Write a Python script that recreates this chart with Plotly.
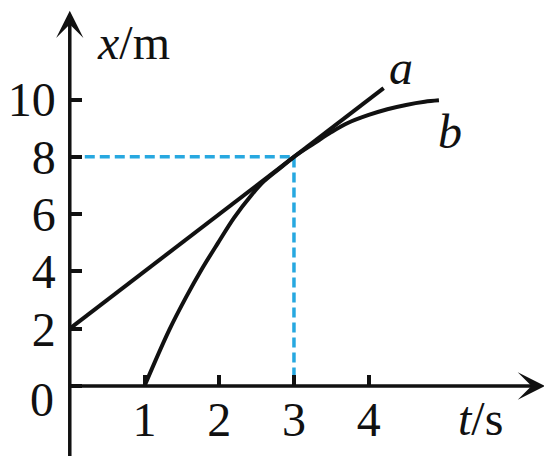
import plotly.graph_objects as go

# values
a_t = [0, 4.2]
a_x = [2, 10.4]

b_t = [1.0, 1.33, 1.56, 1.76, 1.98, 2.2, 2.43, 2.6, 2.83, 3.0, 3.27, 3.5, 3.72, 4.0, 4.25, 4.5, 4.75, 4.94]
b_x = [0.0, 1.95, 3.12, 4.05, 4.98, 5.88, 6.66, 7.15, 7.64, 8.0, 8.47, 8.86, 9.18, 9.46, 9.66, 9.81, 9.92, 9.97]

meet_t = 3
meet_x = 8

t_ticks = [1, 2, 3, 4]
x_ticks = [0, 2, 4, 6, 8, 10]

# page body adds an 8px offset, so the ranges are shifted to compensate
t_range = [-0.8, 6.56]
x_range = [-3.037, 13.194]

serif = "Liberation Serif, Times New Roman, serif"
ink = "#111111"
blue = "#27A8E0"

fig = go.Figure()

# dashed guide lines to the meeting point
fig.add_trace(go.Scatter(
    x=[0, meet_t, meet_t], y=[meet_x, meet_x, 0],
    mode="lines", line=dict(color=blue, width=3.5, dash="10px,5px"),
    showlegend=False, hoverinfo="skip"
))

# line a
fig.add_trace(go.Scatter(
    x=a_t, y=a_x, mode="lines",
    line=dict(color=ink, width=4), showlegend=False
))

# curve b
fig.add_trace(go.Scatter(
    x=b_t, y=b_x, mode="lines",
    line=dict(color=ink, width=4, shape="spline", smoothing=1.0), showlegend=False
))

# axes with arrows
fig.add_annotation(x=6.36, y=0, ax=-0.02, ay=0, axref="x", ayref="y", text="",
                   showarrow=True, arrowhead=3, arrowsize=1.3, arrowwidth=3.5, arrowcolor=ink)
fig.add_annotation(x=0, y=13.1, ax=0, ay=-2.5, axref="x", ayref="y", text="",
                   showarrow=True, arrowhead=3, arrowsize=1.3, arrowwidth=3.5, arrowcolor=ink)

label_font = dict(family=serif, size=48, color=ink)
fig.add_annotation(x=0.85, y=12.0, text="<i>x</i>/m", showarrow=False, font=label_font)
fig.add_annotation(x=5.5, y=-1.15, text="<i>t</i>/s", showarrow=False, font=label_font)
fig.add_annotation(x=4.43, y=11.1, text="<i>a</i>", showarrow=False, font=label_font)
fig.add_annotation(x=5.09, y=8.9, text="<i>b</i>", showarrow=False, font=label_font)
# origin label sits below the t axis
fig.add_annotation(x=0, y=0, text="0", showarrow=False, font=label_font,
                   xanchor="right", yanchor="middle", xshift=-14, yshift=-14)

fig.update_layout(
    width=552, height=465,
    margin=dict(l=0, r=0, t=0, b=0),
    paper_bgcolor="white", plot_bgcolor="white",
    xaxis=dict(
        range=t_range, showgrid=False, zeroline=False, showline=False,
        anchor="free", position=(0 - x_range[0]) / (x_range[1] - x_range[0]),
        tickmode="array", tickvals=t_ticks, ticktext=[str(v) for v in t_ticks],
        ticks="inside", ticklen=11, tickwidth=3.5, tickcolor=ink,
        tickfont=dict(family=serif, size=48, color=ink), ticklabelstandoff=1,
    ),
    yaxis=dict(
        range=x_range, showgrid=False, zeroline=False, showline=False,
        anchor="free", position=(0 - t_range[0]) / (t_range[1] - t_range[0]),
        tickmode="array", tickvals=x_ticks,
        ticktext=["" if v == 0 else str(v) for v in x_ticks],
        ticks="inside", ticklen=11, tickwidth=3.5, tickcolor=ink,
        tickfont=dict(family=serif, size=48, color=ink), ticklabelstandoff=14,
    ),
)

fig.write_html("out.html")
